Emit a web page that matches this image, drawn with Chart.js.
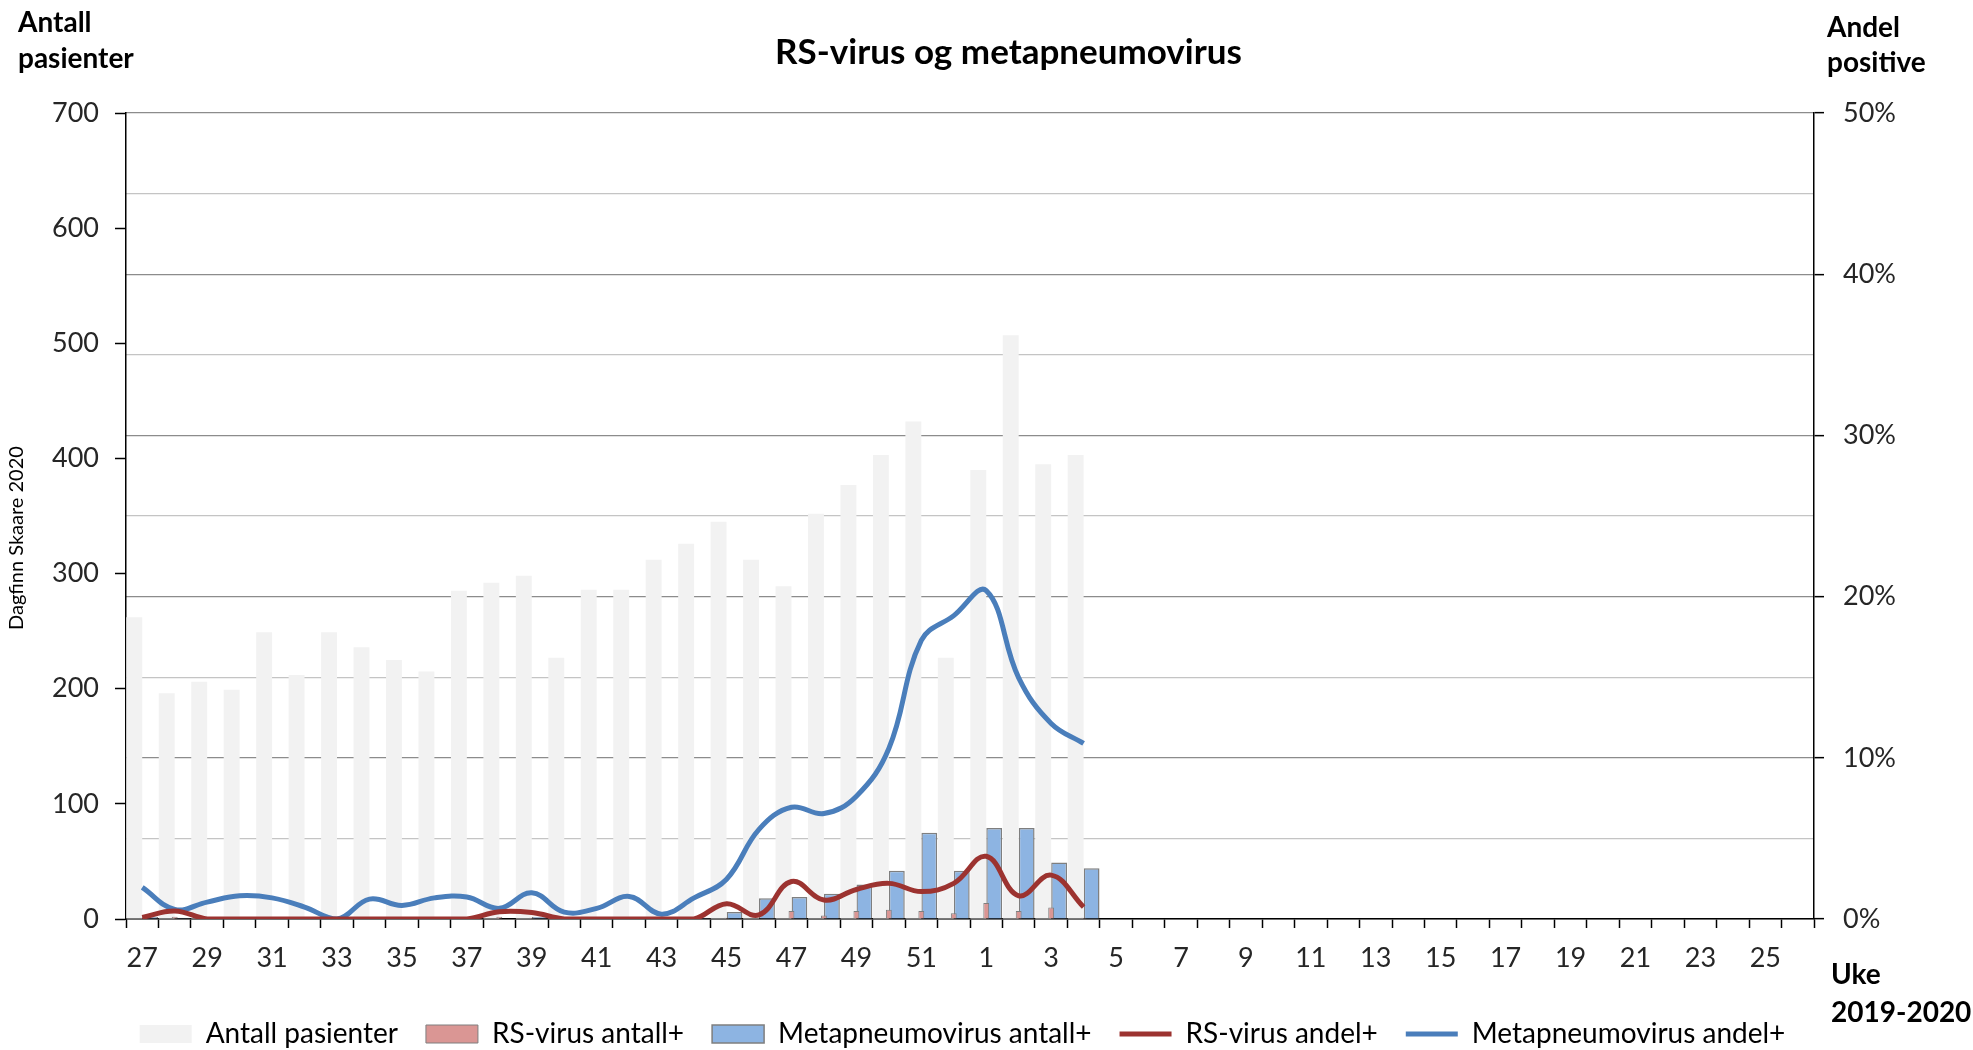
<!DOCTYPE html>
<html>
<head>
<meta charset="utf-8">
<title>RS-virus og metapneumovirus</title>
<script src="https://cdn.jsdelivr.net/npm/chart.js@4.4.0/dist/chart.umd.min.js"></script>
<style>
  html, body { margin: 0; padding: 0; background: #fff; }
</style>
</head>
<body>
<canvas id="myChart" width="1973" height="1050"></canvas>
<script>
// uke 27 (2019) til uke 26 (2020)
const weeks = ['27','28','29','30','31','32','33','34','35','36','37','38','39','40','41','42','43','44','45','46','47','48','49','50','51','52',
  '1','2','3','4','5','6','7','8','9','10','11','12','13','14','15','16','17','18','19','20','21','22','23','24','25','26'];

const antallPasienter = [262, 196, 206, 199, 249, 212, 249, 236, 225, 215, 285, 292, 298, 227, 286, 286, 312, 326, 345, 312,
  289, 352, 377, 403, 432, 227, 390, 507, 395, 403];
const rsAntall = [1, 2, 0, 0, 0, 0, 0, 0, 0, 0, 0, 2, 1, 0, 0, 1, 0, 0, 1, 0,
  7, 3, 7, 8, 7, 5, 14, 7, 10, 1];
const mpAntall = [2, 1, 0, 0, 0, 0, 0, 0, 0, 0, 1, 0, 2, 0, 0, 1, 0, 1, 6, 18,
  19, 22, 30, 42, 75, 42, 79, 79, 49, 44];
const rsAndel = [0.1, 0.5, 0, 0, 0, 0, 0, 0, 0, 0, 0, 0.45, 0.4, 0, 0, 0, 0, 0, 0.95, 0.25,
  2.33, 1.18, 1.83, 2.21, 1.7, 2.21, 3.89, 1.44, 2.72, 0.74];
const mpAndel = [1.96, 0.6, 1.05, 1.44, 1.31, 0.74, 0, 1.23, 0.84, 1.31, 1.36, 0.66, 1.63, 0.43, 0.66, 1.4, 0.3, 1.31, 2.47, 5.56,
  6.93, 6.54, 7.62, 10.58, 17.28, 18.82, 20.37, 14.96, 12.13, 10.89];

const leftTicks = [0, 100, 200, 300, 400, 500, 600, 700];
const rightTicks = [0, 10, 20, 30, 40, 50];

const FONT = 'Lato';

// tekst rundt plottet + små justeringer av tittel og legend
const axisTitles = {
  id: 'axisTitles',
  afterLayout(chart) {
    chart.legend.top += 8;
    chart.legend.bottom += 8;
    chart.legend.left -= 24;
    chart.legend.right -= 24;
    if (chart.titleBlock) {
      chart.titleBlock.left += 22;
      chart.titleBlock.right += 22;
    }
  },
  afterDraw(chart) {
    const c = chart.ctx;
    const a = chart.chartArea;
    c.save();
    c.fillStyle = '#000';
    c.textBaseline = 'middle';
    c.textAlign = 'left';
    c.font = 'bold 28px ' + FONT;
    c.fillText('Antall', 18, 23);
    c.fillText('pasienter', 18, 59);
    c.fillText('Andel', a.right + 13, 28);
    c.fillText('positive', a.right + 13, 63);
    c.fillText('Uke', a.right + 17, 975);
    c.fillText('2019-2020', a.right + 17, 1013);
    c.translate(17, 538);
    c.rotate(-Math.PI / 2);
    c.font = '20px ' + FONT;
    c.textAlign = 'center';
    c.fillText('Dagfinn Skaare 2020', 0, 0);
    c.restore();
  }
};

const ctx = document.getElementById('myChart');

new Chart(ctx, {
  type: 'bar',
  data: {
    labels: weeks,
    datasets: [{
      type: 'line',
      label: 'RS-virus andel+',
      data: rsAndel,
      yAxisID: 'y1',
      borderColor: '#9c3330',
      backgroundColor: '#9c3330',
      borderWidth: 5,
      pointRadius: 0,
      tension: 0.4,
      order: 0
    }, {
      type: 'line',
      label: 'Metapneumovirus andel+',
      data: mpAndel,
      yAxisID: 'y1',
      borderColor: '#4a7ebb',
      backgroundColor: '#4a7ebb',
      borderWidth: 5,
      pointRadius: 0,
      tension: 0.4,
      order: 0
    }, {
      label: 'Antall pasienter',
      data: antallPasienter,
      yAxisID: 'y',
      backgroundColor: '#f2f2f2',
      borderWidth: 0,
      categoryPercentage: 0.98,
      barPercentage: 1.0,
      order: 2
    }, {
      // smal stolpe midt i kategorien, ikke gruppert
      label: 'RS-virus antall+',
      data: rsAntall,
      yAxisID: 'y',
      grouped: false,
      backgroundColor: '#da9694',
      borderColor: '#7f7f7f',
      borderWidth: 1,
      categoryPercentage: 0.18,
      barPercentage: 1.0,
      order: 1
    }, {
      label: 'Metapneumovirus antall+',
      data: mpAntall,
      yAxisID: 'y',
      backgroundColor: '#8db4e2',
      borderColor: '#7f7f7f',
      borderWidth: 1.5,
      categoryPercentage: 0.98,
      barPercentage: 1.0,
      order: 3
    }]
  },
  options: {
    responsive: false,
    animation: false,
    layout: { padding: 0 },
    scales: {
      x: {
        offset: true,
        grid: { offset: true, drawOnChartArea: false, drawTicks: true, tickLength: 9, tickColor: '#000', tickWidth: 1.5 },
        border: { color: '#000', width: 1.5 },
        ticks: {
          autoSkip: false,
          maxRotation: 0,
          padding: 14,
          color: '#262626',
          font: { family: FONT, size: 27 },
          callback: function (val, index) {
            return index % 2 === 0 ? this.getLabelForValue(val) : '';
          }
        },
        afterFit: (s) => { s.height = 65; }
      },
      y: {
        position: 'left',
        min: 0,
        max: 700,
        afterBuildTicks: (s) => { s.ticks = leftTicks.map(v => ({ value: v })); },
        grid: { drawOnChartArea: false, drawTicks: true, tickLength: 11, tickColor: '#000', tickWidth: 1.5 },
        border: { color: '#000', width: 1.5 },
        ticks: { padding: 16, color: '#262626', font: { family: FONT, size: 27 } },
        afterFit: (s) => { s.width = 126; }
      },
      y1: {
        position: 'right',
        min: 0,
        max: 50,
        ticks: {
          stepSize: 5,
          padding: 19,
          color: '#262626',
          font: { family: FONT, size: 27 },
          callback: (v) => rightTicks.includes(v) ? v + '%' : ''
        },
        grid: {
          drawOnChartArea: true,
          drawTicks: true,
          tickLength: 10,
          tickWidth: 1.5,
          color: (c) => c.tick.value % 10 === 0 ? '#8c8c8c' : '#c4c4c4',
          tickColor: (c) => c.tick.value % 10 === 0 ? '#000' : 'rgba(0,0,0,0)',
          lineWidth: 1.3
        },
        border: { color: '#000', width: 1.5 },
        afterFit: (s) => { s.width = 159; }
      }
    },
    plugins: {
      title: {
        display: true,
        text: 'RS-virus og metapneumovirus',
        color: '#000',
        font: { family: FONT, size: 35, weight: 'bold', lineHeight: 1.2 },
        padding: { top: 32, bottom: 39 }
      },
      legend: {
        position: 'bottom',
        labels: {
          color: '#000',
          font: { family: FONT, size: 28 },
          padding: 28,
          usePointStyle: true,
          pointStyleWidth: 52,
          boxHeight: 18,
          sort: (a, b) => {
            const want = ['Antall pasienter', 'RS-virus antall+', 'Metapneumovirus antall+', 'RS-virus andel+', 'Metapneumovirus andel+'];
            return want.indexOf(a.text) - want.indexOf(b.text);
          },
          generateLabels: (chart) => {
            const items = Chart.defaults.plugins.legend.labels.generateLabels(chart);
            items.forEach(it => {
              const ds = chart.data.datasets[it.datasetIndex];
              it.pointStyle = ds.type === 'line' ? 'line' : 'rect';
            });
            return items;
          }
        }
      },
      tooltip: { enabled: false }
    }
  },
  plugins: [axisTitles]
});
</script>
</body>
</html>
